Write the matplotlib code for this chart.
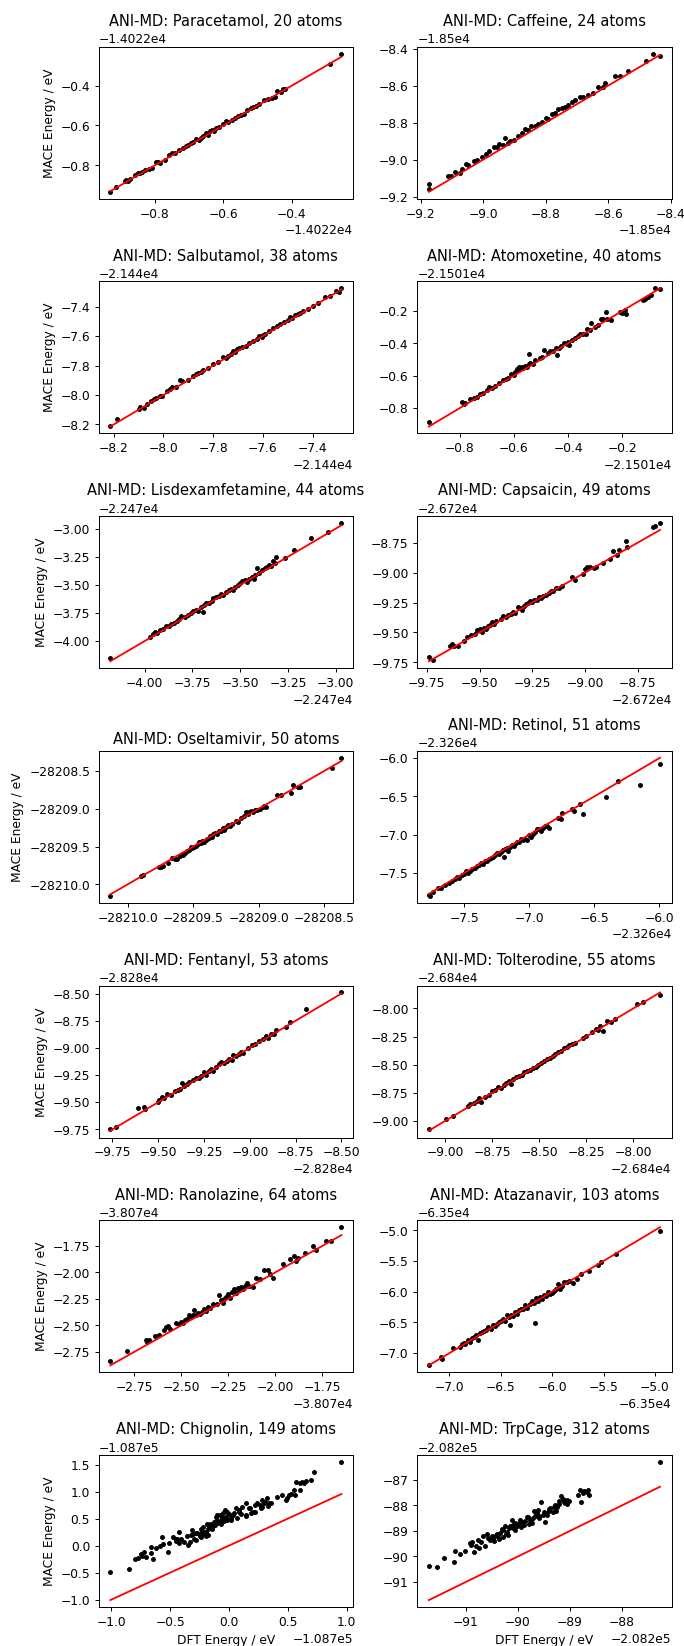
import matplotlib
matplotlib.use("Agg")
import matplotlib.pyplot as plt
import numpy as np

names = ["Paracetamol", "Caffeine", "Salbutamol", "Atomoxetine", "Lisdexamfetamine",
         "Capsaicin", "Oseltamivir", "Retinol", "Fentanyl", "Tolterodine",
         "Ranolazine", "Atazanavir", "Chignolin", "TrpCage"]
atoms = [20, 24, 38, 40, 44, 49, 50, 51, 53, 55, 64, 103, 149, 312]
# energy offsets (eV); values below are (DFT, MACE) relative to these
offsets = [-14022, -18500, -21440, -21501, -22470, -26720, -28209, -23260,
           -28280, -26840, -38070, -63500, -108700, -208200]

paracetamol = [(-0.931,-0.934),(-0.913,-0.909),(-0.889,-0.880),(-0.884,-0.876),(-0.879,-0.881),(-0.874,-0.872),(-0.860,-0.851),(-0.850,-0.841),(-0.845,-0.838),(-0.838,-0.835),(-0.828,-0.822),(-0.818,-0.817),(-0.810,-0.815),(-0.796,-0.784),(-0.790,-0.783),(-0.784,-0.790),(-0.772,-0.772),(-0.758,-0.748),(-0.750,-0.740),(-0.742,-0.738),(-0.730,-0.725),(-0.718,-0.712),(-0.710,-0.702),(-0.702,-0.698),(-0.695,-0.688),(-0.688,-0.684),(-0.680,-0.670),(-0.672,-0.675),(-0.666,-0.664),(-0.660,-0.652),(-0.652,-0.640),(-0.645,-0.648),(-0.640,-0.628),(-0.633,-0.622),(-0.626,-0.630),(-0.620,-0.612),(-0.612,-0.610),(-0.600,-0.594),(-0.592,-0.578),(-0.585,-0.580),(-0.575,-0.572),(-0.565,-0.560),(-0.556,-0.553),(-0.548,-0.545),(-0.540,-0.540),(-0.530,-0.522),(-0.520,-0.512),(-0.512,-0.508),(-0.505,-0.500),(-0.495,-0.492),(-0.482,-0.472),(-0.470,-0.466),(-0.458,-0.460),(-0.450,-0.455),(-0.444,-0.428),(-0.432,-0.432),(-0.425,-0.418),(-0.418,-0.418),(-0.287,-0.291),(-0.254,-0.238)]

caffeine = [(-9.1735,-9.129),(-9.1735,-9.157),(-9.111,-9.087),(-9.1025,-9.087),(-9.091,-9.064),(-9.074,-9.071),(-9.0665,-9.048),(-9.056,-9.023),(-9.047,-9.0286),(-9.029,-9.009),(-9.020,-9.0036),(-9.003,-8.984),(-8.992,-8.968),(-8.980,-8.955),(-8.966,-8.934),(-8.955,-8.929),(-8.948,-8.916),(-8.936,-8.921),(-8.929,-8.884),(-8.921,-8.909),(-8.915,-8.898),(-8.902,-8.891),(-8.888,-8.870),(-8.876,-8.855),(-8.865,-8.834),(-8.855,-8.841),(-8.846,-8.820),(-8.833,-8.816),(-8.823,-8.807),(-8.812,-8.798),(-8.7995,-8.773),(-8.793,-8.780),(-8.780,-8.755),(-8.770,-8.748),(-8.759,-8.727),(-8.749,-8.721),(-8.738,-8.716),(-8.727,-8.705),(-8.717,-8.686),(-8.706,-8.677),(-8.690,-8.659),(-8.680,-8.6625),(-8.664,-8.650),(-8.648,-8.6375),(-8.632,-8.609),(-8.616,-8.609),(-8.609,-8.584),(-8.577,-8.548),(-8.563,-8.548),(-8.537,-8.523),(-8.478,-8.468),(-8.455,-8.427),(-8.434,-8.4375)]

salbutamol = [(-8.214,-8.209),(-8.186,-8.162),(-8.100,-8.092),(-8.095,-8.082),(-8.080,-8.085),(-8.065,-8.058),(-8.050,-8.040),(-8.040,-8.030),(-8.030,-8.022),(-8.015,-8.010),(-8.005,-8.008),(-7.985,-7.975),(-7.975,-7.962),(-7.965,-7.948),(-7.950,-7.945),(-7.935,-7.895),(-7.925,-7.905),(-7.900,-7.895),(-7.880,-7.870),(-7.870,-7.860),(-7.860,-7.848),(-7.850,-7.843),(-7.840,-7.832),(-7.820,-7.815),(-7.800,-7.790),(-7.780,-7.778),(-7.760,-7.745),(-7.750,-7.752),(-7.740,-7.735),(-7.730,-7.720),(-7.720,-7.700),(-7.712,-7.705),(-7.705,-7.690),(-7.695,-7.680),(-7.685,-7.672),(-7.670,-7.665),(-7.655,-7.645),(-7.640,-7.632),(-7.625,-7.618),(-7.615,-7.600),(-7.605,-7.605),(-7.598,-7.590),(-7.590,-7.588),(-7.575,-7.565),(-7.560,-7.548),(-7.545,-7.532),(-7.530,-7.520),(-7.515,-7.505),(-7.500,-7.490),(-7.490,-7.472),(-7.482,-7.478),(-7.470,-7.460),(-7.460,-7.448),(-7.450,-7.442),(-7.440,-7.432),(-7.420,-7.415),(-7.400,-7.395),(-7.380,-7.375),(-7.350,-7.335),(-7.330,-7.325),(-7.305,-7.292),(-7.295,-7.300),(-7.284,-7.276)]

atomoxetine = [(-0.913,-0.886),(-0.790,-0.760),(-0.785,-0.775),(-0.780,-0.765),(-0.760,-0.745),(-0.745,-0.740),(-0.735,-0.728),(-0.725,-0.715),(-0.715,-0.705),(-0.700,-0.690),(-0.690,-0.672),(-0.680,-0.678),(-0.670,-0.662),(-0.655,-0.645),(-0.640,-0.625),(-0.630,-0.622),(-0.620,-0.612),(-0.610,-0.590),(-0.600,-0.595),(-0.595,-0.575),(-0.590,-0.560),(-0.585,-0.565),(-0.580,-0.545),(-0.575,-0.552),(-0.570,-0.548),(-0.565,-0.555),(-0.560,-0.540),(-0.550,-0.545),(-0.545,-0.530),(-0.543,-0.463),(-0.540,-0.520),(-0.530,-0.525),(-0.520,-0.500),(-0.505,-0.490),(-0.495,-0.485),(-0.490,-0.440),(-0.475,-0.460),(-0.465,-0.450),(-0.455,-0.445),(-0.445,-0.430),(-0.440,-0.470),(-0.435,-0.428),(-0.425,-0.415),(-0.415,-0.400),(-0.405,-0.405),(-0.400,-0.390),(-0.395,-0.410),(-0.385,-0.380),(-0.375,-0.370),(-0.365,-0.355),(-0.355,-0.345),(-0.345,-0.340),(-0.335,-0.345),(-0.330,-0.310),(-0.320,-0.320),(-0.315,-0.275),(-0.300,-0.300),(-0.290,-0.285),(-0.280,-0.250),(-0.270,-0.250),(-0.260,-0.205),(-0.255,-0.250),(-0.240,-0.255),(-0.210,-0.210),(-0.200,-0.215),(-0.190,-0.195),(-0.185,-0.220),(-0.125,-0.135),(-0.115,-0.125),(-0.105,-0.115),(-0.095,-0.100),(-0.080,-0.062),(-0.061,-0.068)]

lisdexamfetamine = [(-4.180,-4.150),(-3.970,-3.965),(-3.955,-3.940),(-3.945,-3.920),(-3.935,-3.925),(-3.920,-3.905),(-3.905,-3.890),(-3.890,-3.870),(-3.875,-3.865),(-3.860,-3.850),(-3.845,-3.840),(-3.830,-3.825),(-3.820,-3.800),(-3.810,-3.780),(-3.790,-3.785),(-3.775,-3.770),(-3.760,-3.750),(-3.745,-3.735),(-3.730,-3.720),(-3.720,-3.730),(-3.705,-3.695),(-3.695,-3.740),(-3.690,-3.680),(-3.680,-3.665),(-3.665,-3.660),(-3.650,-3.640),(-3.640,-3.620),(-3.625,-3.610),(-3.610,-3.600),(-3.600,-3.585),(-3.590,-3.590),(-3.575,-3.565),(-3.560,-3.545),(-3.550,-3.535),(-3.540,-3.550),(-3.525,-3.515),(-3.510,-3.500),(-3.500,-3.485),(-3.490,-3.470),(-3.475,-3.460),(-3.465,-3.475),(-3.455,-3.450),(-3.440,-3.430),(-3.430,-3.445),(-3.420,-3.410),(-3.410,-3.350),(-3.400,-3.395),(-3.385,-3.370),(-3.370,-3.350),(-3.360,-3.340),(-3.350,-3.325),(-3.340,-3.330),(-3.330,-3.290),(-3.320,-3.305),(-3.310,-3.250),(-3.265,-3.265),(-3.220,-3.190),(-3.130,-3.080),(-3.040,-3.030),(-2.970,-2.950)]

capsaicin = [(-9.740,-9.708),(-9.720,-9.733),(-9.640,-9.610),(-9.630,-9.595),(-9.620,-9.615),(-9.600,-9.610),(-9.575,-9.570),(-9.560,-9.535),(-9.540,-9.525),(-9.520,-9.510),(-9.510,-9.480),(-9.500,-9.470),(-9.490,-9.495),(-9.480,-9.460),(-9.470,-9.470),(-9.460,-9.445),(-9.450,-9.440),(-9.440,-9.410),(-9.430,-9.430),(-9.420,-9.405),(-9.400,-9.390),(-9.390,-9.365),(-9.375,-9.375),(-9.365,-9.355),(-9.350,-9.350),(-9.340,-9.330),(-9.330,-9.340),(-9.320,-9.290),(-9.310,-9.300),(-9.300,-9.310),(-9.290,-9.275),(-9.280,-9.260),(-9.270,-9.255),(-9.260,-9.240),(-9.250,-9.245),(-9.240,-9.225),(-9.230,-9.230),(-9.220,-9.200),(-9.210,-9.210),(-9.200,-9.195),(-9.185,-9.185),(-9.170,-9.170),(-9.160,-9.150),(-9.150,-9.150),(-9.140,-9.130),(-9.125,-9.125),(-9.110,-9.110),(-9.060,-9.040),(-9.050,-9.060),(-9.010,-9.010),(-9.000,-8.970),(-8.990,-8.955),(-8.975,-8.950),(-8.960,-8.965),(-8.950,-8.955),(-8.915,-8.920),(-8.880,-8.885),(-8.868,-8.817),(-8.850,-8.850),(-8.840,-8.815),(-8.808,-8.733),(-8.800,-8.790),(-8.680,-8.620),(-8.670,-8.610),(-8.645,-8.587)]

oseltamivir = [(-1.133,-1.154),(-0.900,-0.895),(-0.880,-0.880),(-0.760,-0.770),(-0.745,-0.768),(-0.730,-0.760),(-0.690,-0.715),(-0.660,-0.650),(-0.640,-0.670),(-0.620,-0.665),(-0.600,-0.620),(-0.580,-0.615),(-0.560,-0.580),(-0.545,-0.555),(-0.530,-0.540),(-0.520,-0.505),(-0.505,-0.520),(-0.490,-0.500),(-0.480,-0.490),(-0.465,-0.470),(-0.455,-0.445),(-0.440,-0.450),(-0.430,-0.425),(-0.420,-0.440),(-0.405,-0.410),(-0.395,-0.395),(-0.380,-0.385),(-0.370,-0.365),(-0.355,-0.370),(-0.345,-0.340),(-0.330,-0.325),(-0.320,-0.335),(-0.305,-0.300),(-0.290,-0.290),(-0.275,-0.255),(-0.265,-0.275),(-0.250,-0.245),(-0.235,-0.215),(-0.220,-0.230),(-0.200,-0.200),(-0.170,-0.160),(-0.155,-0.175),(-0.135,-0.120),(-0.110,-0.100),(-0.095,-0.045),(-0.080,-0.070),(-0.070,-0.040),(-0.055,-0.025),(-0.040,-0.040),(-0.025,-0.010),(-0.010,-0.020),(0.010,-0.005),(0.030,0.020),(0.045,0.035),(0.055,0.025),(0.143,0.180),(0.173,0.180),(0.245,0.210),(0.265,0.310),(0.300,0.285),(0.315,0.290),(0.559,0.535),(0.633,0.676)]

retinol = [(-7.772,-7.785),(-7.765,-7.800),(-7.740,-7.745),(-7.700,-7.700),(-7.680,-7.690),(-7.650,-7.660),(-7.620,-7.625),(-7.595,-7.600),(-7.570,-7.585),(-7.555,-7.555),(-7.540,-7.570),(-7.520,-7.530),(-7.505,-7.510),(-7.490,-7.480),(-7.475,-7.495),(-7.455,-7.470),(-7.440,-7.450),(-7.420,-7.430),(-7.400,-7.410),(-7.385,-7.395),(-7.370,-7.370),(-7.355,-7.385),(-7.340,-7.345),(-7.325,-7.340),(-7.310,-7.320),(-7.295,-7.300),(-7.280,-7.290),(-7.265,-7.270),(-7.250,-7.245),(-7.235,-7.255),(-7.220,-7.230),(-7.205,-7.200),(-7.195,-7.290),(-7.185,-7.190),(-7.170,-7.180),(-7.160,-7.210),(-7.150,-7.160),(-7.135,-7.130),(-7.120,-7.150),(-7.110,-7.120),(-7.095,-7.095),(-7.080,-7.090),(-7.065,-7.060),(-7.050,-7.075),(-7.035,-7.050),(-7.020,-7.070),(-7.000,-7.000),(-6.985,-7.030),(-6.970,-6.990),(-6.955,-6.960),(-6.940,-6.930),(-6.925,-6.925),(-6.910,-6.950),(-6.895,-6.915),(-6.880,-6.890),(-6.865,-6.880),(-6.850,-6.910),(-6.780,-6.780),(-6.760,-6.790),(-6.750,-6.720),(-6.670,-6.665),(-6.655,-6.685),(-6.610,-6.595),(-6.585,-6.725),(-6.410,-6.512),(-6.320,-6.300),(-6.150,-6.348),(-5.995,-6.074)]

fentanyl = [(-9.762,-9.748),(-9.730,-9.725),(-9.610,-9.555),(-9.580,-9.545),(-9.575,-9.560),(-9.500,-9.500),(-9.495,-9.480),(-9.480,-9.455),(-9.470,-9.465),(-9.450,-9.425),(-9.430,-9.430),(-9.410,-9.400),(-9.395,-9.385),(-9.380,-9.380),(-9.370,-9.320),(-9.360,-9.355),(-9.345,-9.335),(-9.330,-9.310),(-9.310,-9.300),(-9.295,-9.275),(-9.280,-9.280),(-9.265,-9.255),(-9.250,-9.225),(-9.240,-9.250),(-9.225,-9.215),(-9.210,-9.195),(-9.200,-9.210),(-9.185,-9.175),(-9.170,-9.150),(-9.155,-9.130),(-9.140,-9.135),(-9.125,-9.120),(-9.115,-9.100),(-9.100,-9.110),(-9.090,-9.070),(-9.075,-9.075),(-9.060,-9.055),(-9.050,-9.040),(-9.035,-9.045),(-9.010,-9.000),(-8.990,-8.975),(-8.970,-8.960),(-8.950,-8.940),(-8.930,-8.915),(-8.910,-8.895),(-8.900,-8.910),(-8.885,-8.875),(-8.870,-8.870),(-8.860,-8.835),(-8.800,-8.810),(-8.780,-8.760),(-8.696,-8.639),(-8.500,-8.490)]

tolterodine = [(-9.088,-9.077),(-8.995,-8.980),(-8.960,-8.960),(-8.880,-8.870),(-8.870,-8.855),(-8.850,-8.840),(-8.830,-8.820),(-8.820,-8.800),(-8.810,-8.830),(-8.790,-8.790),(-8.770,-8.770),(-8.750,-8.735),(-8.735,-8.725),(-8.720,-8.700),(-8.705,-8.710),(-8.690,-8.680),(-8.675,-8.660),(-8.660,-8.650),(-8.650,-8.670),(-8.640,-8.630),(-8.625,-8.610),(-8.610,-8.600),(-8.595,-8.590),(-8.580,-8.570),(-8.565,-8.555),(-8.550,-8.545),(-8.535,-8.530),(-8.520,-8.520),(-8.505,-8.500),(-8.490,-8.485),(-8.475,-8.470),(-8.460,-8.450),(-8.445,-8.440),(-8.430,-8.425),(-8.415,-8.405),(-8.400,-8.390),(-8.385,-8.380),(-8.370,-8.355),(-8.355,-8.345),(-8.340,-8.330),(-8.325,-8.320),(-8.310,-8.305),(-8.270,-8.260),(-8.250,-8.245),(-8.220,-8.210),(-8.200,-8.180),(-8.190,-8.195),(-8.175,-8.160),(-8.160,-8.200),(-8.140,-8.110),(-8.120,-8.120),(-8.100,-8.090),(-7.980,-7.960),(-7.950,-7.945),(-7.858,-7.879)]

ranolazine = [(-2.878,-2.841),(-2.790,-2.745),(-2.690,-2.640),(-2.685,-2.660),(-2.670,-2.640),(-2.640,-2.600),(-2.620,-2.595),(-2.590,-2.545),(-2.580,-2.520),(-2.570,-2.510),(-2.560,-2.530),(-2.530,-2.480),(-2.510,-2.490),(-2.500,-2.470),(-2.490,-2.480),(-2.480,-2.450),(-2.470,-2.440),(-2.460,-2.400),(-2.450,-2.420),(-2.440,-2.400),(-2.430,-2.350),(-2.420,-2.400),(-2.410,-2.380),(-2.400,-2.390),(-2.390,-2.370),(-2.380,-2.345),(-2.370,-2.360),(-2.360,-2.330),(-2.345,-2.340),(-2.330,-2.300),(-2.310,-2.300),(-2.300,-2.210),(-2.290,-2.260),(-2.280,-2.290),(-2.270,-2.250),(-2.260,-2.230),(-2.250,-2.200),(-2.240,-2.240),(-2.230,-2.180),(-2.220,-2.160),(-2.210,-2.190),(-2.200,-2.150),(-2.190,-2.170),(-2.180,-2.140),(-2.170,-2.160),(-2.160,-2.130),(-2.150,-2.100),(-2.140,-2.130),(-2.120,-2.140),(-2.100,-2.050),(-2.080,-2.060),(-2.060,-1.980),(-2.040,-1.980),(-2.030,-2.010),(-2.010,-2.050),(-1.960,-1.920),(-1.920,-1.870),(-1.900,-1.840),(-1.890,-1.890),(-1.880,-1.860),(-1.840,-1.820),(-1.800,-1.750),(-1.780,-1.790),(-1.730,-1.700),(-1.700,-1.700),(-1.647,-1.572)]

atazanavir = [(-7.200,-7.190),(-7.080,-7.060),(-7.070,-7.090),(-6.970,-6.920),(-6.900,-6.900),(-6.880,-6.860),(-6.860,-6.830),(-6.850,-6.850),(-6.820,-6.790),(-6.800,-6.820),(-6.780,-6.760),(-6.760,-6.740),(-6.740,-6.700),(-6.720,-6.790),(-6.700,-6.680),(-6.680,-6.650),(-6.660,-6.640),(-6.640,-6.620),(-6.620,-6.570),(-6.600,-6.610),(-6.580,-6.540),(-6.560,-6.560),(-6.540,-6.520),(-6.520,-6.500),(-6.500,-6.480),(-6.480,-6.450),(-6.460,-6.470),(-6.440,-6.380),(-6.420,-6.420),(-6.410,-6.550),(-6.400,-6.380),(-6.380,-6.400),(-6.360,-6.330),(-6.340,-6.360),(-6.320,-6.300),(-6.300,-6.280),(-6.280,-6.290),(-6.260,-6.220),(-6.240,-6.260),(-6.220,-6.200),(-6.200,-6.150),(-6.180,-6.190),(-6.168,-6.510),(-6.160,-6.110),(-6.140,-6.160),(-6.120,-6.080),(-6.100,-6.120),(-6.080,-6.060),(-6.060,-6.070),(-6.040,-6.000),(-6.020,-6.040),(-6.000,-6.020),(-5.980,-5.990),(-5.960,-5.950),(-5.940,-5.880),(-5.920,-5.950),(-5.900,-5.900),(-5.880,-5.840),(-5.860,-5.850),(-5.840,-5.820),(-5.800,-5.860),(-5.760,-5.790),(-5.720,-5.720),(-5.640,-5.670),(-5.550,-5.560),(-5.520,-5.510),(-5.380,-5.380),(-4.950,-5.005)]

chignolin = [(-1.010,-0.495),(-0.852,-0.434),(-0.800,-0.250),(-0.773,-0.237),(-0.753,-0.163),(-0.740,-0.190),(-0.725,-0.113),(-0.705,-0.206),(-0.660,-0.021),(-0.660,-0.144),(-0.651,-0.249),(-0.620,-0.050),(-0.589,-0.003),(-0.569,0.164),(-0.560,0.020),(-0.518,-0.126),(-0.512,0.047),(-0.478,0.164),(-0.455,0.114),(-0.450,0.080),(-0.440,0.130),(-0.430,0.256),(-0.427,0.047),(-0.410,0.120),(-0.380,0.060),(-0.360,0.180),(-0.350,0.010),(-0.333,0.071),(-0.320,0.200),(-0.313,0.287),(-0.308,0.213),(-0.300,0.120),(-0.285,0.102),(-0.280,0.240),(-0.271,0.225),(-0.260,0.210),(-0.250,0.180),(-0.243,0.164),(-0.240,0.300),(-0.230,0.260),(-0.220,0.336),(-0.220,0.210),(-0.208,0.256),(-0.200,0.180),(-0.200,0.260),(-0.190,0.398),(-0.180,0.300),(-0.180,0.200),(-0.170,0.367),(-0.160,0.400),(-0.149,0.299),(-0.140,0.360),(-0.129,0.441),(-0.120,0.380),(-0.115,0.533),(-0.100,0.472),(-0.100,0.560),(-0.090,0.420),(-0.081,0.564),(-0.080,0.440),(-0.072,0.398),(-0.064,0.484),(-0.060,0.520),(-0.050,0.595),(-0.040,0.460),(-0.038,0.656),(-0.030,0.533),(-0.020,0.620),(-0.015,0.472),(0.000,0.582),(0.013,0.503),(0.020,0.480),(0.030,0.560),(0.040,0.600),(0.055,0.687),(0.070,0.503),(0.080,0.660),(0.084,0.626),(0.100,0.580),(0.112,0.718),(0.140,0.780),(0.140,0.550),(0.147,0.564),(0.169,0.687),(0.180,0.700),(0.183,0.595),(0.206,0.626),(0.217,0.749),(0.220,0.620),(0.240,0.792),(0.260,0.760),(0.268,0.687),(0.280,0.720),(0.282,0.841),(0.300,0.780),(0.305,0.810),(0.325,0.890),(0.330,0.740),(0.339,0.780),(0.353,0.792),(0.410,0.903),(0.452,0.933),(0.480,0.850),(0.495,0.872),(0.509,0.933),(0.530,0.960),(0.552,1.026),(0.557,0.933),(0.572,1.180),(0.600,1.026),(0.600,1.150),(0.623,1.180),(0.640,1.160),(0.657,1.190),(0.694,1.210),(0.722,1.365),(0.955,1.550)]

trpcage = [(-91.710,-90.37),(-91.555,-90.42),(-91.420,-90.07),(-91.213,-89.78),(-91.226,-90.226),(-91.116,-89.885),(-91.006,-89.78),(-90.923,-89.479),(-90.900,-89.55),(-90.877,-89.44),(-90.845,-89.833),(-90.813,-89.584),(-90.761,-89.348),(-90.742,-89.675),(-90.700,-89.45),(-90.660,-89.20),(-90.632,-89.57),(-90.587,-89.11),(-90.568,-89.28),(-90.535,-89.35),(-90.503,-89.216),(-90.480,-89.28),(-90.452,-89.41),(-90.426,-89.15),(-90.400,-89.10),(-90.390,-89.25),(-90.360,-89.30),(-90.342,-89.06),(-90.310,-88.93),(-90.280,-88.98),(-90.277,-89.22),(-90.245,-88.82),(-90.220,-89.10),(-90.213,-89.02),(-90.180,-89.15),(-90.160,-88.90),(-90.148,-88.82),(-90.116,-88.56),(-90.100,-88.75),(-90.084,-88.89),(-90.060,-88.95),(-90.052,-88.69),(-90.019,-88.82),(-89.980,-88.70),(-89.955,-88.56),(-89.940,-88.85),(-89.923,-88.63),(-89.890,-88.76),(-89.860,-88.60),(-89.826,-88.47),(-89.800,-88.45),(-89.794,-88.72),(-89.761,-88.56),(-89.740,-88.62),(-89.729,-88.69),(-89.700,-88.50),(-89.697,-88.23),(-89.677,-88.40),(-89.645,-88.36),(-89.630,-88.28),(-89.613,-88.17),(-89.600,-88.42),(-89.587,-88.50),(-89.555,-87.88),(-89.523,-88.36),(-89.500,-88.25),(-89.484,-88.63),(-89.458,-88.30),(-89.440,-88.38),(-89.406,-88.23),(-89.400,-88.15),(-89.374,-88.10),(-89.329,-88.27),(-89.300,-88.05),(-89.277,-87.97),(-89.260,-88.20),(-89.245,-88.04),(-89.213,-87.84),(-89.200,-87.95),(-89.161,-87.64),(-89.135,-87.75),(-89.120,-87.85),(-89.084,-87.90),(-89.052,-87.77),(-89.050,-87.95),(-89.019,-87.84),(-88.839,-87.58),(-88.813,-87.41),(-88.781,-87.866),(-88.750,-87.50),(-88.729,-87.42),(-88.660,-87.46),(-88.645,-87.38),(-88.632,-87.58),(-87.265,-86.29)]

datasets = [paracetamol, caffeine, salbutamol, atomoxetine, lisdexamfetamine, capsaicin,
            oseltamivir, retinol, fentanyl, tolterodine, ranolazine, atazanavir,
            chignolin, trpcage]

DPI = 88
fig, axes = plt.subplots(7, 2, figsize=(684.3 / DPI, 1646.3 / DPI), dpi=DPI)
fig.subplots_adjust(left=0.1443, right=0.9814, top=0.97145, bottom=0.02369,
                    wspace=0.253, hspace=0.544)

for i, ax in enumerate(axes.flat):
    rel = np.array(datasets[i], dtype=float)
    dft = offsets[i] + rel[:, 0]
    mace = offsets[i] + rel[:, 1]
    ax.plot(dft, mace, "k.", linestyle="none")
    lo, hi = dft.min(), dft.max()
    ax.plot([lo, hi], [lo, hi], "r-")
    ax.set_title(f"ANI-MD: {names[i]}, {atoms[i]} atoms")
    if i % 2 == 0:
        ax.set_ylabel("MACE Energy / eV")
    if i >= 12:
        ax.set_xlabel("DFT Energy / eV")

fig.savefig("out.png", dpi=DPI)
